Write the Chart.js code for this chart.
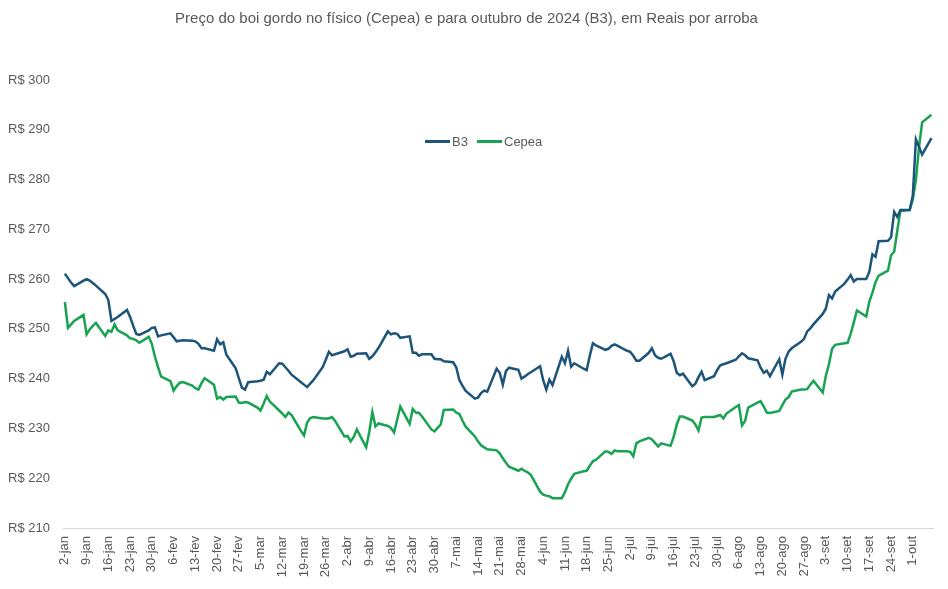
<!DOCTYPE html>
<html>
<head>
<meta charset="utf-8">
<script src="https://cdn.jsdelivr.net/npm/chart.js@4"></script>
<style>
    body { margin: 0; background: #fff; font-family: 'Liberation Sans', Arial, sans-serif; }
    #wrap { position: relative; width: 948px; height: 589px; }
    .leg { position: absolute; top: 134px; font-size: 13px; color: #595959; line-height: 16px; }
    .leg i { display: inline-block; width: 25px; height: 3px; vertical-align: middle; margin-right: 2px; margin-top: -2px; }
</style>
</head>
<body>
<div id="wrap">
    <canvas id="boiChart" width="948" height="589"></canvas>
    <div class="leg" style="left:425px"><i style="background:#1d5479"></i>B3</div>
    <div class="leg" style="left:477px"><i style="background:#17a34f"></i>Cepea</div>
</div>
<script>
// weekly tick labels (each week starts on a Tuesday)
const weekLabels = ['2-jan','9-jan','16-jan','23-jan','30-jan','6-fev','13-fev','20-fev','27-fev',
    '5-mar','12-mar','19-mar','26-mar','2-abr','9-abr','16-abr','23-abr','30-abr','7-mai','14-mai',
    '21-mai','28-mai','4-jun','11-jun','18-jun','25-jun','2-jul','9-jul','16-jul','23-jul','30-jul',
    '6-ago','13-ago','20-ago','27-ago','3-set','10-set','17-set','24-set','1-out'];

// business days inside each week: Tue, Wed, Thu, Fri, Mon (days after the week label)
const dayOffsets = [0, 1, 2, 3, 6];

// B3 - outubro 2024, R$/@ (5 values per week)
const b3Values = [
    261.1, 260.2, 259.3, 258.6, 259.7,
    260.0, 259.7, 259.2, 258.7, 257.0,
    255.8, 251.6, 252.0, 252.4, 253.8,
    252.4, 250.6, 249.0, 248.8, 249.7,
    250.2, 250.3, 248.5, 248.7, 249.1,
    248.3, 247.5, 247.6, 247.7, 247.6,
    247.5, 247.0, 246.1, 246.1, 245.6,
    247.9, 246.9, 247.3, 244.8, 242.1,
    240.1, 238.2, 237.8, 239.3, 239.5,
    239.6, 239.8, 241.4, 240.9, 243.1,
    243.0, 242.3, 241.6, 240.8, 239.3,
    238.8, 238.3, 239.0, 239.7, 242.3,
    243.8, 245.4, 244.7, 244.9, 245.5,
    245.9, 244.4, 244.6, 245.0, 245.1,
    244.0, 244.5, 245.3, 246.2, 249.5,
    248.9, 249.1, 249.0, 248.2, 248.5,
    245.2, 245.2, 244.6, 244.9, 244.9,
    244.0, 243.9, 243.9, 243.5, 243.3,
    242.3, 239.7, 238.6, 237.6, 236.0,
    236.2, 237.1, 237.6, 237.4, 242.0,
    241.2, 238.8, 241.5, 242.2, 241.8,
    240.0, 240.4, 240.9, 241.3, 242.5,
    239.7, 237.8, 239.8, 238.7, 244.4,
    243.1, 245.6, 242.4, 243.1, 242.0,
    241.7, 244.6, 247.1, 246.7, 245.8,
    246.0, 246.6, 246.9, 246.6, 245.6,
    245.4, 244.6, 243.6, 243.6, 245.2,
    246.1, 244.7, 244.2, 244.0, 245.0,
    243.5, 241.2, 240.7, 241.0, 238.5,
    239.0, 240.3, 241.4, 239.7, 240.5,
    241.7, 242.7, 242.9, 243.1, 243.8,
    244.5, 245.1, 244.7, 244.1, 243.7,
    242.2, 241.2, 241.6, 240.5, 243.9,
    240.8, 244.0, 245.4, 246.1, 247.4,
    248.0, 249.5, 250.1, 250.9, 253.0,
    254.1, 256.8, 256.1, 257.5, 259.1,
    259.9, 260.8, 259.5, 260.0, 260.0,
    261.5, 265.0, 264.5, 267.6, 267.7,
    268.4, 273.5, 272.5, 273.9, 273.9,
    276.8, 288.1, 286.6, 285.0, 288.3
];

// Cepea - indicador fisico, R$/@
const cepeaValues = [
    255.4, 250.2, 250.9, 251.6, 252.8,
    248.9, 249.9, 250.6, 251.2, 248.6,
    249.7, 249.4, 250.9, 249.7, 248.7,
    248.1, 248.0, 247.7, 247.2, 248.4,
    247.0, 244.4, 242.3, 240.4, 239.5,
    237.6, 238.5, 239.2, 239.3, 238.6,
    238.1, 237.8, 239.1, 240.1, 238.8,
    236.0, 236.3, 235.8, 236.3, 236.4,
    235.2, 235.1, 235.3, 235.2, 234.2,
    233.6, 235.0, 236.5, 235.4, 233.6,
    233.0, 232.3, 233.2, 232.7, 229.5,
    228.6, 231.2, 232.1, 232.3, 232.0,
    232.0, 232.0, 232.3, 231.5, 228.4,
    228.5, 227.4, 228.3, 229.8, 226.2,
    229.3, 233.3, 230.4, 231.0, 230.5,
    230.1, 229.2, 231.8, 234.4, 230.9,
    233.9, 233.2, 233.1, 232.4, 229.8,
    229.4, 230.1, 230.8, 233.7, 233.8,
    233.2, 232.9, 231.6, 230.4, 228.4,
    227.4, 226.6, 226.2, 225.8, 225.6,
    225.0, 224.0, 223.1, 222.3, 221.5,
    221.9, 221.5, 221.2, 220.7, 217.3,
    216.7, 216.5, 216.4, 216.0, 216.0,
    217.2, 218.8, 219.9, 220.9, 221.4,
    221.5, 222.5, 223.4, 223.7, 225.4,
    225.3, 224.9, 225.6, 225.4, 225.4,
    225.3, 224.4, 227.0, 227.4, 228.1,
    227.8, 227.1, 226.4, 227.0, 226.5,
    228.3, 230.8, 232.4, 232.4, 231.6,
    230.8, 229.6, 232.2, 232.3, 232.3,
    232.5, 232.7, 232.0, 233.0, 234.3,
    234.7, 230.6, 231.5, 234.2, 235.2,
    235.5, 234.4, 233.2, 233.1, 233.5,
    234.7, 235.8, 236.3, 237.4, 237.8,
    237.8, 237.9, 238.8, 239.6, 237.2,
    240.6, 242.9, 246.0, 246.8, 247.1,
    247.2, 249.0, 251.3, 253.7, 252.5,
    255.5, 257.3, 259.4, 260.7, 261.7,
    264.8, 265.5, 269.7, 273.7, 273.9,
    276.0, 280.0, 286.5, 291.5, 293.0
];

function toPoints(values) {
    return values.map((v, i) => ({ x: Math.floor(i / 5) * 7 + dayOffsets[i % 5], y: v }));
}

const textColor = '#595959';
const ctx = document.getElementById('boiChart');
new Chart(ctx, {
    type: 'line',
    data: {
        datasets: [{
            label: 'B3',
            data: toPoints(b3Values),
            borderColor: '#1d5479',
            borderWidth: 2.5,
            pointRadius: 0,
            tension: 0
        }, {
            label: 'Cepea',
            data: toPoints(cepeaValues),
            borderColor: '#17a34f',
            borderWidth: 2.5,
            pointRadius: 0,
            tension: 0
        }]
    },
    options: {
        responsive: false,
        animation: false,
        devicePixelRatio: 1,
        layout: { padding: { left: 0, right: 15, top: 0, bottom: 0 } },
        plugins: {
            legend: { display: false },
            tooltip: { enabled: false },
            title: {
                display: true,
                text: 'Preço do boi gordo no físico (Cepea) e para outubro de 2024 (B3), em Reais por arroba',
                color: textColor,
                font: { family: "'Liberation Sans', Arial, sans-serif", size: 15, weight: 'normal' },
                padding: { top: 10, bottom: 52 }
            }
        },
        scales: {
            x: {
                type: 'linear',
                min: -0.6,
                max: 279.5,
                grid: { display: false, drawTicks: false },
                border: { display: true, color: '#d9d9d9', width: 1 },
                afterBuildTicks: axis => {
                    axis.ticks = weekLabels.map((l, i) => ({ value: i * 7 }));
                },
                afterFit: axis => { axis.height = 61; },
                ticks: {
                    autoSkip: false,
                    minRotation: 90,
                    maxRotation: 90,
                    padding: 8,
                    color: textColor,
                    font: { family: "'Liberation Sans', Arial, sans-serif", size: 13 },
                    callback: (v, i) => weekLabels[i]
                }
            },
            y: {
                min: 210,
                max: 300,
                grid: { display: false, drawTicks: false },
                border: { display: false },
                afterFit: axis => { axis.width = 63; },
                ticks: {
                    stepSize: 10,
                    padding: 13,
                    color: textColor,
                    font: { family: "'Liberation Sans', Arial, sans-serif", size: 13 },
                    callback: v => 'R$ ' + v
                }
            }
        }
    }
});
</script>
</body>
</html>
